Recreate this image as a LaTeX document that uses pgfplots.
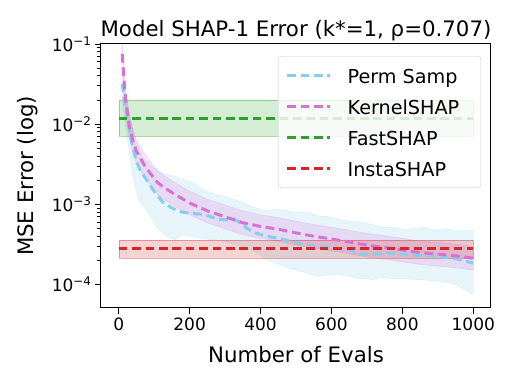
\documentclass[border=0pt]{standalone}
\usepackage{fontspec}
\setmainfont{DejaVu Sans}
\usepackage{pgfplots}
\usepackage{pgfplotstable}
\pgfplotsset{compat=1.18}
\usepgfplotslibrary{fillbetween}
\definecolor{permc}{HTML}{87CEEB}
\definecolor{kernc}{HTML}{DA70D6}
\definecolor{fastc}{HTML}{2CA02C}
\definecolor{instc}{HTML}{D62728}
\newcommand{\lent}[1]{\raisebox{4.25pt}{\rule{0pt}{21.15pt}#1}\hspace*{12pt}}

\pgfplotstableread{
x y
10 0.032
15 0.021
20 0.0145
30 0.0083
40 0.0050
50 0.0034
60 0.0027
70 0.0023
85 0.00183
100 0.00145
125 0.00106
150 0.00090
175 0.00081
200 0.00077
225 0.00076
250 0.00073
275 0.00066
300 0.00064
325 0.00066
340 0.00060
360 0.00051
380 0.00045
400 0.00042
430 0.00039
460 0.00037
500 0.00033
550 0.00031
600 0.00029
650 0.00027
680 0.00024
720 0.00024
750 0.00025
800 0.00024
850 0.00023
900 0.000225
950 0.00021
980 0.000195
1000 0.000185
}\permmeantab

\pgfplotstableread{
x y
10 0.05
17 0.0275
30 0.0135
45 0.0065
70 0.0037
100 0.0028
130 0.0024
158 0.00224
186 0.00204
215 0.0018
240 0.00152
270 0.00135
300 0.00126
322 0.00115
345 0.00108
370 0.00096
395 0.00088
417 0.00083
440 0.00087
460 0.00085
485 0.00082
511 0.00079
535 0.00080
560 0.00072
585 0.00071
605 0.00068
630 0.00064
650 0.00062
675 0.00061
700 0.00058
725 0.00055
750 0.00052
780 0.00051
813 0.00049
840 0.00051
860 0.00052
880 0.00049
900 0.00048
925 0.00050
950 0.00047
975 0.00048
1000 0.00047
}\permuptab

\pgfplotstableread{
x y
10 0.018
18 0.010
26 0.0059
40 0.0022
55 0.00115
70 0.00095
83 0.00079
100 0.00060
111 0.00049
135 0.00040
158 0.00036
180 0.00042
205 0.00040
230 0.00038
262 0.00036
285 0.00037
300 0.00034
330 0.00031
350 0.00030
370 0.000275
395 0.00024
417 0.000205
450 0.00018
470 0.000165
492 0.000155
530 0.00014
558 0.000126
590 0.00013
624 0.000135
650 0.000125
670 0.00012
695 0.000118
718 0.000115
740 0.000122
760 0.00012
790 0.000118
813 0.00012
840 0.000115
860 0.000115
885 0.00011
906 0.00011
930 0.000105
950 0.00010
970 0.00009
991 0.000079
1000 0.000075
}\permlotab

\pgfplotstableread{
x y up lo
10 0.075 0.105 0.053
15 0.035 0.049 0.0249
20 0.019 0.0266 0.0135
30 0.0095 0.0133 0.00675
40 0.0062 0.00868 0.0044
50 0.0046 0.00644 0.00327
70 0.0032 0.00448 0.00227
90 0.0024 0.00336 0.0017
110 0.00186 0.0026 0.00132
130 0.0016 0.00224 0.00114
160 0.00132 0.00185 0.00094
200 0.00104 0.00146 0.00074
250 0.00083 0.00116 0.00059
300 0.00070 0.00098 0.000497
350 0.00059 0.00083 0.000419
400 0.00053 0.00074 0.000376
450 0.00049 0.000686 0.000348
500 0.00044 0.000616 0.000312
550 0.00040 0.00056 0.000284
600 0.00037 0.000518 0.000263
650 0.00034 0.000476 0.000241
700 0.00031 0.000434 0.00022
750 0.00029 0.000406 0.000206
800 0.00027 0.000378 0.000192
850 0.00025 0.00035 0.000178
900 0.00024 0.000336 0.00017
950 0.000228 0.000319 0.000162
1000 0.000213 0.000298 0.000151
}\kerneltab

\pgfplotstableread{
x y up lo
0 0.0119 0.0200 0.00715
1000 0.0119 0.0200 0.00715
}\fasttab

\pgfplotstableread{
x y up lo
0 0.000279 0.000362 0.000213
1000 0.000279 0.000362 0.000213
}\instatab

\begin{document}
\begin{tikzpicture}
\begin{axis}[
  at={(0pt,0pt)}, anchor=south west,
  scale only axis, width=390pt, height=264pt,
  xmin=-50, xmax=1050,
  ymode=log, ymin=5.1e-5, ymax=0.1,
  xtick={0,200,400,600,800,1000},
  ytick={1e-4,1e-3,1e-2,1e-1},
  yticklabels={10\textsuperscript{−4},10\textsuperscript{−3},10\textsuperscript{−2},10\textsuperscript{−1}},
  xticklabel style={/pgf/number format/assume math mode=true, /pgf/number format/1000 sep={}, font=\fontsize{17}{20}\selectfont},
  yticklabel style={font=\fontsize{17}{20}\selectfont},
  tick align=outside,
  xtick pos=bottom, ytick pos=left,
  major tick length=6pt, minor tick length=3.5pt,
  tick style={black, line width=0.9pt},
  axis line style={line width=1pt},
  every axis title shift=0pt,
  title={Model SHAP-1 Error (k*=1, ρ=0.707)},
  title style={at={(axis description cs:0.5,1.0265)}, anchor=base, font=\fontsize{21.3}{25}\selectfont},
  xlabel={Number of Evals},
  xlabel style={at={(axis description cs:0.5,-0.2070)}, anchor=base, font=\fontsize{21.3}{25}\selectfont},
  ylabel={MSE Error (log)},
  ylabel style={at={(axis description cs:-0.1731,0.5)}, anchor=base, font=\fontsize{21.3}{25}\selectfont},
  legend style={at={(axis description cs:0.9744,0.9545)}, anchor=north east,
    draw=black!20, rounded corners=3pt, fill=white, fill opacity=0.8, text opacity=1,
    draw opacity=1,
    font=\fontsize{19.2}{22}\selectfont, inner xsep=7.5pt, inner ysep=4pt, row sep=0pt,
    /tikz/column 1/.style={column sep=14pt}},
  legend cell align=left,
  legend image code/.code={\draw[#1] (0pt,0pt) -- (43pt,0pt);},
]
% Perm Samp
\addplot[draw=none, name path=pu, forget plot] table[x=x,y=y]{\permuptab};
\addplot[draw=none, name path=pl, forget plot] table[x=x,y=y]{\permlotab};
\addplot[fill=permc, fill opacity=0.2, draw=permc, draw opacity=0.3, forget plot] fill between[of=pu and pl];
\addplot[permc, line width=3pt, dash pattern=on 8.7pt off 4.7pt] table[x=x,y=y]{\permmeantab};
\addlegendentry{\lent{Perm Samp}}
% KernelSHAP
\addplot[draw=none, name path=ku, forget plot] table[x=x,y=up]{\kerneltab};
\addplot[draw=none, name path=kl, forget plot] table[x=x,y=lo]{\kerneltab};
\addplot[fill=kernc, fill opacity=0.2, draw=kernc, draw opacity=0.3, forget plot] fill between[of=ku and kl];
\addplot[kernc, line width=3pt, dash pattern=on 8.7pt off 4.7pt] table[x=x,y=y]{\kerneltab};
\addlegendentry{\lent{KernelSHAP}}
% FastSHAP
\addplot[draw=none, name path=fu, forget plot] table[x=x,y=up]{\fasttab};
\addplot[draw=none, name path=fl, forget plot] table[x=x,y=lo]{\fasttab};
\addplot[fill=fastc, fill opacity=0.2, draw=fastc, draw opacity=0.4, forget plot] fill between[of=fu and fl];
\addplot[fastc, line width=3pt, dash pattern=on 8.7pt off 4.7pt] table[x=x,y=y]{\fasttab};
\addlegendentry{\lent{FastSHAP}}
% InstaSHAP
\addplot[draw=none, name path=iu, forget plot] table[x=x,y=up]{\instatab};
\addplot[draw=none, name path=il, forget plot] table[x=x,y=lo]{\instatab};
\addplot[fill=instc, fill opacity=0.2, draw=instc, draw opacity=0.4, forget plot] fill between[of=iu and il];
\addplot[instc, line width=3pt, dash pattern=on 8.7pt off 4.7pt] table[x=x,y=y]{\instatab};
\addlegendentry{\lent{InstaSHAP}}
\end{axis}
\path (-101pt,-78pt) rectangle (414pt,308pt);
\end{tikzpicture}
\end{document}
